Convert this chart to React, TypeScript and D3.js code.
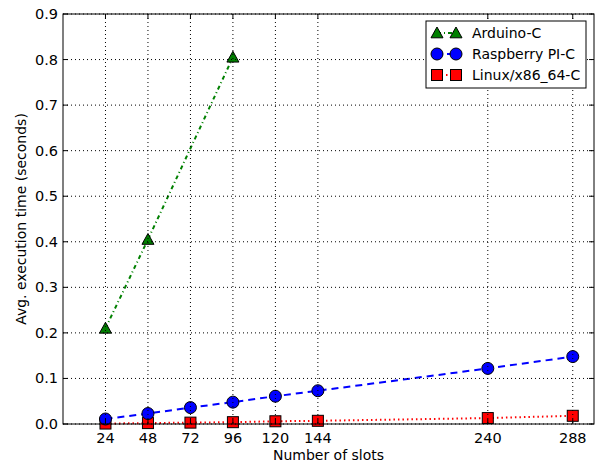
import React from 'react';
import * as d3 from 'd3';

const slots = [24, 48, 72, 96, 120, 144, 240, 288];
const arduinoSlots = [24, 48, 96];
const arduinoTimes = [0.21, 0.405, 0.805];
const piTimes = [0.011, 0.023, 0.036, 0.048, 0.061, 0.073, 0.122, 0.148];
const linuxTimes = [0.001, 0.002, 0.003, 0.004, 0.006, 0.007, 0.013, 0.018];
const yTicks = [0, 0.1, 0.2, 0.3, 0.4, 0.5, 0.6, 0.7, 0.8, 0.9];

export default function App() {
  const width = 597;
  const height = 464;
  const left = 63;
  const right = 594;
  const top = 14;
  const bottom = 424;
  const font = 'DejaVu Sans, sans-serif';

  const x = d3.scaleLinear().domain([0, 300]).range([left, right]);
  const y = d3.scaleLinear().domain([0, 0.9]).range([bottom, top]);

  const line = d3.line<[number, number]>().x(d => x(d[0])).y(d => y(d[1]));
  const arduino = arduinoSlots.map((s, i) => [s, arduinoTimes[i]] as [number, number]);
  const pi = slots.map((s, i) => [s, piTimes[i]] as [number, number]);
  const linux = slots.map((s, i) => [s, linuxTimes[i]] as [number, number]);

  const tri = (cx: number, cy: number, r = 6) =>
    `M${cx},${cy - r} L${cx + r},${cy + r * 0.8} L${cx - r},${cy + r * 0.8} Z`;

  const legendX = 426;
  const legendY = 21;
  const rows = [
    { label: 'Arduino-C', color: 'green', dash: '4,3,1,3', shape: 'tri' },
    { label: 'Raspberry PI-C', color: 'blue', dash: '6,4', shape: 'circle' },
    { label: 'Linux/x86_64-C', color: 'red', dash: '1.5,3', shape: 'square' },
  ];

  const marker = (shape: string, cx: number, cy: number, key: any) => {
    if (shape === 'tri') return <path key={key} d={tri(cx, cy)} fill="green" stroke="black" strokeWidth={1} />;
    if (shape === 'circle') return <circle key={key} cx={cx} cy={cy} r={6} fill="blue" stroke="black" strokeWidth={1} />;
    return <rect key={key} x={cx - 5.5} y={cy - 5.5} width={11} height={11} fill="red" stroke="black" strokeWidth={1} />;
  };

  return (
    <svg width={width} height={height} style={{ position: 'absolute', left: 0, top: 0, background: 'white' }}>
      <rect x={0} y={0} width={width} height={height} fill="white" />

      {/* series */}
      <path d={line(arduino) || ''} fill="none" stroke="green" strokeWidth={2} strokeDasharray="4,3,1,3" />
      <path d={line(pi) || ''} fill="none" stroke="blue" strokeWidth={2} strokeDasharray="7,5" />
      <path d={line(linux) || ''} fill="none" stroke="red" strokeWidth={2} strokeDasharray="1.5,3" />
      {linux.map((d, i) => marker('square', x(d[0]), y(d[1]), 'l' + i))}
      {pi.map((d, i) => marker('circle', x(d[0]), y(d[1]), 'p' + i))}
      {arduino.map((d, i) => marker('tri', x(d[0]), y(d[1]), 'a' + i))}

      {/* grid over data */}
      {slots.map(t => (
        <line key={'gx' + t} x1={x(t)} x2={x(t)} y1={top} y2={bottom} stroke="black" strokeWidth={1} strokeDasharray="1,3" />
      ))}
      {yTicks.map(t => (
        <line key={'gy' + t} x1={left} x2={right} y1={y(t)} y2={y(t)} stroke="black" strokeWidth={1} strokeDasharray="1,3" />
      ))}

      {/* ticks */}
      {slots.map(t => (
        <g key={'tx' + t}>
          <line x1={x(t)} x2={x(t)} y1={bottom} y2={bottom - 5} stroke="black" />
          <line x1={x(t)} x2={x(t)} y1={top} y2={top + 5} stroke="black" />
          <text x={x(t)} y={bottom + 19} textAnchor="middle" fontFamily={font} fontSize={14.5}>{t}</text>
        </g>
      ))}
      {yTicks.map(t => (
        <g key={'ty' + t}>
          <line x1={left} x2={left + 5} y1={y(t)} y2={y(t)} stroke="black" />
          <line x1={right} x2={right - 5} y1={y(t)} y2={y(t)} stroke="black" />
          <text x={left - 5} y={y(t) + 5} textAnchor="end" fontFamily={font} fontSize={14.5}>{t.toFixed(1)}</text>
        </g>
      ))}

      <rect x={left} y={top} width={right - left} height={bottom - top} fill="none" stroke="black" strokeWidth={1} />

      {/* legend */}
      <rect x={legendX} y={legendY} width={160} height={67} fill="white" stroke="black" strokeWidth={1} />
      {rows.map((r, i) => {
        const cy = legendY + 12 + i * 21;
        return (
          <g key={r.label}>
            <line x1={legendX + 11} x2={legendX + 30} y1={cy} y2={cy} stroke={r.color} strokeWidth={2} strokeDasharray={r.dash} />
            {marker(r.shape, legendX + 11, cy, 'm1')}
            {marker(r.shape, legendX + 30, cy, 'm2')}
            <text x={legendX + 46} y={cy + 5} fontFamily={font} fontSize={14}>{r.label}</text>
          </g>
        );
      })}

      <text x={(left + right) / 2} y={460} textAnchor="middle" fontFamily={font} fontSize={14}>Number of slots</text>
      <text transform={`translate(26, ${(top + bottom) / 2}) rotate(-90)`} textAnchor="middle" fontFamily={font} fontSize={14}>
        Avg. execution time (seconds)
      </text>
    </svg>
  );
}
